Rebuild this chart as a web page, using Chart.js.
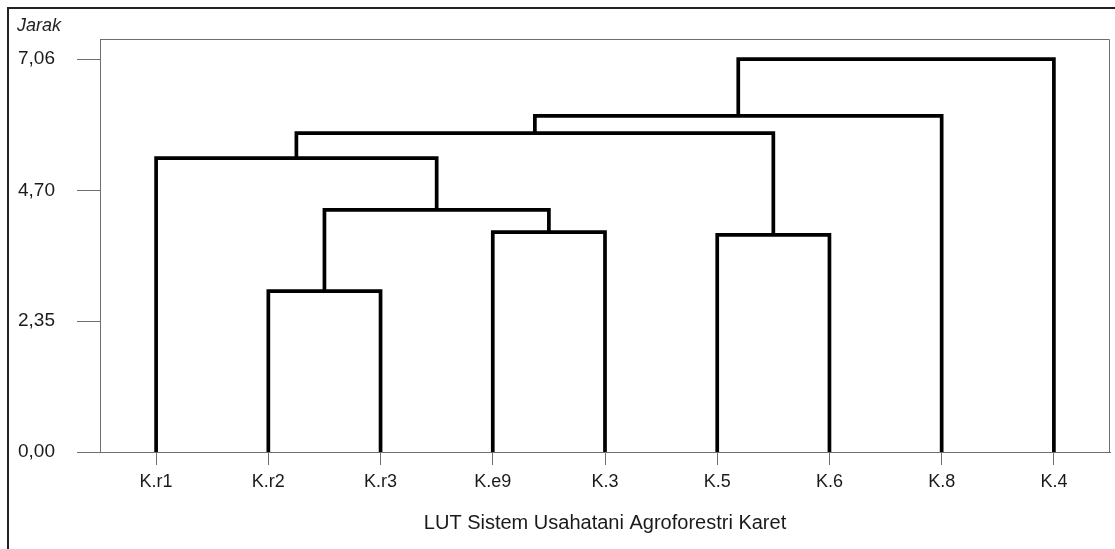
<!DOCTYPE html>
<html>
<head>
<meta charset="utf-8">
<script src="https://cdn.jsdelivr.net/npm/chart.js@4.4.1/dist/chart.umd.min.js"></script>
<style>
  html, body { margin: 0; padding: 0; background: #fff; }
  #wrap { width: 1115px; height: 549px; }
</style>
</head>
<body>
<div id="wrap"><canvas id="c" width="1115" height="549"></canvas></div>
<script>
// Leaves (x-axis categories), in dendrogram order
const categories = ['K.r1', 'K.r2', 'K.r3', 'K.e9', 'K.3', 'K.5', 'K.6', 'K.8', 'K.4'];
// Merges: node ids 0..8 are leaves, each merge creates node 9, 10, ...
const mergeLeft   = [1, 3, 9, 5, 0, 13, 14, 15];
const mergeRight  = [2, 4, 10, 6, 11, 12, 7, 8];
const mergeHeight = [2.89, 3.95, 4.35, 3.90, 5.28, 5.73, 6.04, 7.06];
// Y axis ticks
const yTickValues = [0, 2.35, 4.70, 7.06];
const yTickLabels = ['0,00', '2,35', '4,70', '7,06'];
const xTitle = 'LUT Sistem Usahatani Agroforestri Karet';
const yTitle = 'Jarak';

// Build dendrogram node positions from the merge table
const nodeX = categories.map((_, i) => i);
const nodeH = categories.map(() => 0);
mergeLeft.forEach((l, k) => {
  const r = mergeRight[k];
  nodeX.push((nodeX[l] + nodeX[r]) / 2);
  nodeH.push(mergeHeight[k]);
});
const datasets = mergeLeft.map((l, k) => {
  const r = mergeRight[k];
  const h = mergeHeight[k];
  return {
    data: [
      { x: nodeX[l], y: nodeH[l] },
      { x: nodeX[l], y: h },
      { x: nodeX[r], y: h },
      { x: nodeX[r], y: nodeH[r] }
    ],
    showLine: true,
    borderColor: '#000',
    borderWidth: 3.7,
    borderJoinStyle: 'miter',
    pointRadius: 0,
    tension: 0,
    fill: false
  };
});

const FONT = "'Liberation Sans', Arial, sans-serif";
const AXIS = '#6e6e6e';

const framePlugin = {
  id: 'frame',
  beforeDraw(chart) {
    const ctx = chart.ctx;
    ctx.save();
    ctx.fillStyle = '#fff';
    ctx.fillRect(0, 0, chart.width, chart.height);
    ctx.strokeStyle = '#222';
    ctx.lineWidth = 2;
    ctx.beginPath();
    ctx.moveTo(chart.width, 8);
    ctx.lineTo(8, 8);
    ctx.lineTo(8, chart.height);
    ctx.stroke();
    ctx.restore();
  },
  beforeDatasetsDraw(chart) {
    const ctx = chart.ctx;
    const a = chart.chartArea;
    ctx.save();
    ctx.strokeStyle = AXIS;
    ctx.lineWidth = 1;
    ctx.beginPath();
    ctx.moveTo(Math.round(a.left) + 0.5, Math.round(a.top) + 0.5);
    ctx.lineTo(Math.round(a.right) - 0.5, Math.round(a.top) + 0.5);
    ctx.lineTo(Math.round(a.right) - 0.5, Math.round(a.bottom));
    ctx.stroke();
    ctx.restore();
  }
};

new Chart(document.getElementById('c'), {
  type: 'scatter',
  data: { datasets },
  plugins: [framePlugin],
  options: {
    responsive: false,
    animation: false,
    events: [],
    layout: { padding: { left: 17, right: 5, top: 0, bottom: 0 } },
    plugins: {
      legend: { display: false },
      tooltip: { enabled: false },
      title: {
        display: true,
        text: yTitle,
        align: 'start',
        color: '#222',
        font: { family: FONT, size: 18, style: 'italic', weight: 'normal' },
        padding: { top: 15, bottom: 2.4 }
      }
    },
    scales: {
      x: {
        type: 'linear',
        min: -0.5,
        max: 8.5,
        afterBuildTicks(scale) { scale.ticks = categories.map((c, i) => ({ value: i })); },
        afterFit(scale) { scale.height = 97; },
        ticks: {
          callback: (v) => categories[v],
          color: '#1a1a1a',
          font: { family: FONT, size: 18 },
          padding: 6,
          maxRotation: 0,
          autoSkip: false
        },
        grid: { drawOnChartArea: false, drawTicks: true, tickLength: 13, color: AXIS, lineWidth: 1 },
        border: { display: true, color: AXIS, width: 1 },
        title: {
          display: true,
          text: xTitle,
          color: '#1a1a1a',
          font: { family: FONT, size: 20 },
          padding: { top: 0, bottom: 14 }
        }
      },
      y: {
        type: 'linear',
        min: 0,
        max: 7.42,
        afterBuildTicks(scale) { scale.ticks = yTickValues.map(v => ({ value: v })); },
        afterFit(scale) { scale.width = 83; },
        ticks: {
          callback: (v, i) => yTickLabels[i],
          color: '#1a1a1a',
          font: { family: FONT, size: 19 },
          padding: 22
        },
        grid: { drawOnChartArea: false, drawTicks: true, tickLength: 23, color: AXIS, lineWidth: 1 },
        border: { display: true, color: AXIS, width: 1 }
      }
    }
  }
});
</script>
</body>
</html>
